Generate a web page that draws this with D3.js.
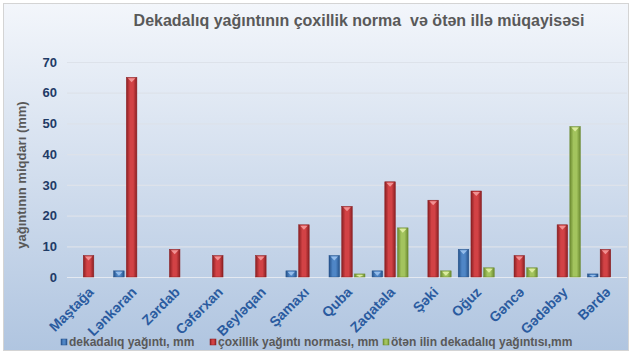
<!DOCTYPE html>
<html>
<head>
<meta charset="utf-8">
<script src="https://cdn.jsdelivr.net/npm/d3@7"></script>
<style>
  body { margin: 0; background: #ffffff; }
  svg text { font-family: "Liberation Sans", Arial, sans-serif; }
</style>
</head>
<body>
<div id="chart"></div>
<script>
// chart data
var stations = ["Maştağa", "Lənkəran", "Zərdab", "Cəfərxan", "Beyləqan", "Şamaxı", "Quba",
                "Zaqatala", "Şəki", "Oğuz", "Gəncə", "Gədəbəy", "Bərdə"];
var dekada  = [0, 2, 0, 0, 0, 2, 7, 2, 0, 9, 0, 0, 1];
var norma   = [7, 65, 9, 7, 7, 17, 23, 31, 25, 28, 7, 17, 9];
var otenIl  = [0, 0, 0, 0, 0, 0, 1, 16, 2, 3, 3, 49, 0];
var seriesNames = ["dekadalıq yağıntı, mm", "çoxillik yağıntı norması, mm", "ötən ilin dekadalıq yağıntısı,mm"];
var yTicks = [0, 10, 20, 30, 40, 50, 60, 70];

var width = 632, height = 354;
var margin = {top: 62, right: 5, bottom: 77, left: 67};

var svg = d3.select("#chart").append("svg")
    .attr("width", width).attr("height", height);

var defs = svg.append("defs");

// background gradient
var bg = defs.append("linearGradient").attr("id", "bg")
    .attr("x1", 0).attr("y1", 0).attr("x2", 0).attr("y2", 1);
bg.append("stop").attr("offset", "0%").attr("stop-color", "#f3f6fb");
bg.append("stop").attr("offset", "100%").attr("stop-color", "#b0c5e0");

// bar gradients (horizontal, darker edges)
var colors = [
  {id: "gBlue",  edge: "#25528a", mid: "#4f86c6", top: "#9cc3ee"},
  {id: "gRed",   edge: "#8a1f22", mid: "#d24245", top: "#f59a9a"},
  {id: "gGreen", edge: "#6b8a30", mid: "#a3c45e", top: "#e2f0a6"}
];
colors.forEach(function(c) {
  var g = defs.append("linearGradient").attr("id", c.id)
      .attr("x1", 0).attr("y1", 0).attr("x2", 1).attr("y2", 0);
  g.append("stop").attr("offset", "0%").attr("stop-color", c.edge);
  g.append("stop").attr("offset", "35%").attr("stop-color", c.mid);
  g.append("stop").attr("offset", "65%").attr("stop-color", c.mid);
  g.append("stop").attr("offset", "100%").attr("stop-color", c.edge);
});

svg.append("rect")
    .attr("x", 3.5).attr("y", 3.5).attr("width", 625).attr("height", 347)
    .attr("fill", "url(#bg)")
    .attr("stroke", "#d4d4d4");

// title
svg.append("text")
    .attr("x", 359).attr("y", 26)
    .attr("text-anchor", "middle")
    .attr("font-size", 16).attr("font-weight", "bold")
    .attr("fill", "#595959")
    .style("white-space", "pre")
    .text("Dekadalıq yağıntının çoxillik norma  və ötən illə müqayisəsi");

// scales
var xScale = d3.scaleBand()
    .domain(stations)
    .range([margin.left, width - margin.right]);

var xInner = d3.scaleBand()
    .domain([0, 1, 2])
    .range([0, 36])
    .paddingInner(0.17);

var yScale = d3.scaleLinear()
    .domain([0, 70])
    .range([height - margin.bottom, margin.top]);

// gridlines
svg.append("g")
  .selectAll("line")
  .data(yTicks).enter().append("line")
    .attr("x1", margin.left).attr("x2", width - margin.right)
    .attr("y1", function(d) { return yScale(d) + 0.5; })
    .attr("y2", function(d) { return yScale(d) + 0.5; })
    .attr("stroke", function(d) { return d == 0 ? "#e4e9f1" : "#dde2ea"; })
    .attr("stroke-width", 1.2);

// y-as
var yAxis = d3.axisLeft(yScale).tickValues(yTicks).tickSize(0).tickPadding(0);
var gy = svg.append("g")
    .attr("transform", "translate(" + [57, 0] + ")")
    .call(yAxis);
gy.select(".domain").remove();
gy.selectAll("text")
    .attr("font-size", 13).attr("font-weight", "bold")
    .attr("fill", "#1f3b66")
    .style("font-family", "'Liberation Sans', Arial, sans-serif");

// y label
svg.append("text")
    .attr("text-anchor", "middle")
    .attr("transform", "translate(" + [26, 175] + ") rotate(-90)")
    .attr("font-size", 13).attr("font-weight", "bold")
    .attr("fill", "#595959")
    .text("yağıntının miqdarı (mm)");

// x-as labels
var xAxis = d3.axisBottom(xScale).tickSize(0).tickPadding(0);
var gx = svg.append("g")
    .attr("transform", "translate(" + [0, height - margin.bottom] + ")")
    .call(xAxis);
gx.select(".domain").remove();
gx.selectAll("text")
    .attr("text-anchor", "end")
    .attr("y", 0)
    .attr("dy", 0)
    .attr("transform", "translate(6,16) rotate(-45)")
    .attr("font-size", 14).attr("font-weight", "bold")
    .attr("fill", "#2a5b9f")
    .style("font-family", "'Liberation Sans', Arial, sans-serif");

// bars
var allSeries = [dekada, norma, otenIl];
var dataset = [];
stations.forEach(function(s, i) {
  allSeries.forEach(function(vals, k) {
    if (vals[i] > 0) dataset.push({station: s, k: k, v: vals[i]});
  });
});

var bw = xInner.bandwidth();
var bars = svg.append("g").selectAll("g.bar")
    .data(dataset).enter().append("g").attr("class", "bar")
    .attr("transform", function(d) {
      return "translate(" + [xScale(d.station) + xScale.bandwidth() / 2 - 18 + xInner(d.k), 0] + ")";
    });

bars.append("rect")
    .attr("x", 0)
    .attr("y", function(d) { return yScale(d.v); })
    .attr("width", bw)
    .attr("height", function(d) { return yScale(0) - yScale(d.v); })
    .attr("fill", function(d) { return "url(#" + colors[d.k].id + ")"; })
    .attr("stroke", function(d) { return colors[d.k].edge; })
    .attr("stroke-width", 0.5);

// small bevel triangle on top of each bar
bars.append("path")
    .attr("d", function(d) {
      var y0 = yScale(d.v) + 1;
      var h = Math.min(4, (yScale(0) - yScale(d.v)) - 1);
      return "M" + [1.5, y0] + "L" + [bw - 1.5, y0] + "L" + [bw / 2, y0 + h] + "Z";
    })
    .attr("fill", function(d) { return colors[d.k].top; })
    .attr("opacity", 0.9);

// legend
var legendX = [61, 210, 383];
var legend = svg.append("g").selectAll("g")
    .data(seriesNames).enter().append("g")
    .attr("transform", function(d, i) { return "translate(" + [legendX[i], 339] + ")"; });

legend.append("rect")
    .attr("x", 0).attr("y", 0).attr("width", 6).attr("height", 6)
    .attr("fill", function(d, i) { return "url(#" + colors[i].id + ")"; })
    .attr("stroke", function(d, i) { return colors[i].edge; })
    .attr("stroke-width", 0.5);

legend.append("text")
    .attr("x", 8).attr("y", 7)
    .attr("font-size", 12).attr("font-weight", "bold")
    .attr("fill", "#595959")
    .text(function(d) { return d; });
</script>
</body>
</html>
